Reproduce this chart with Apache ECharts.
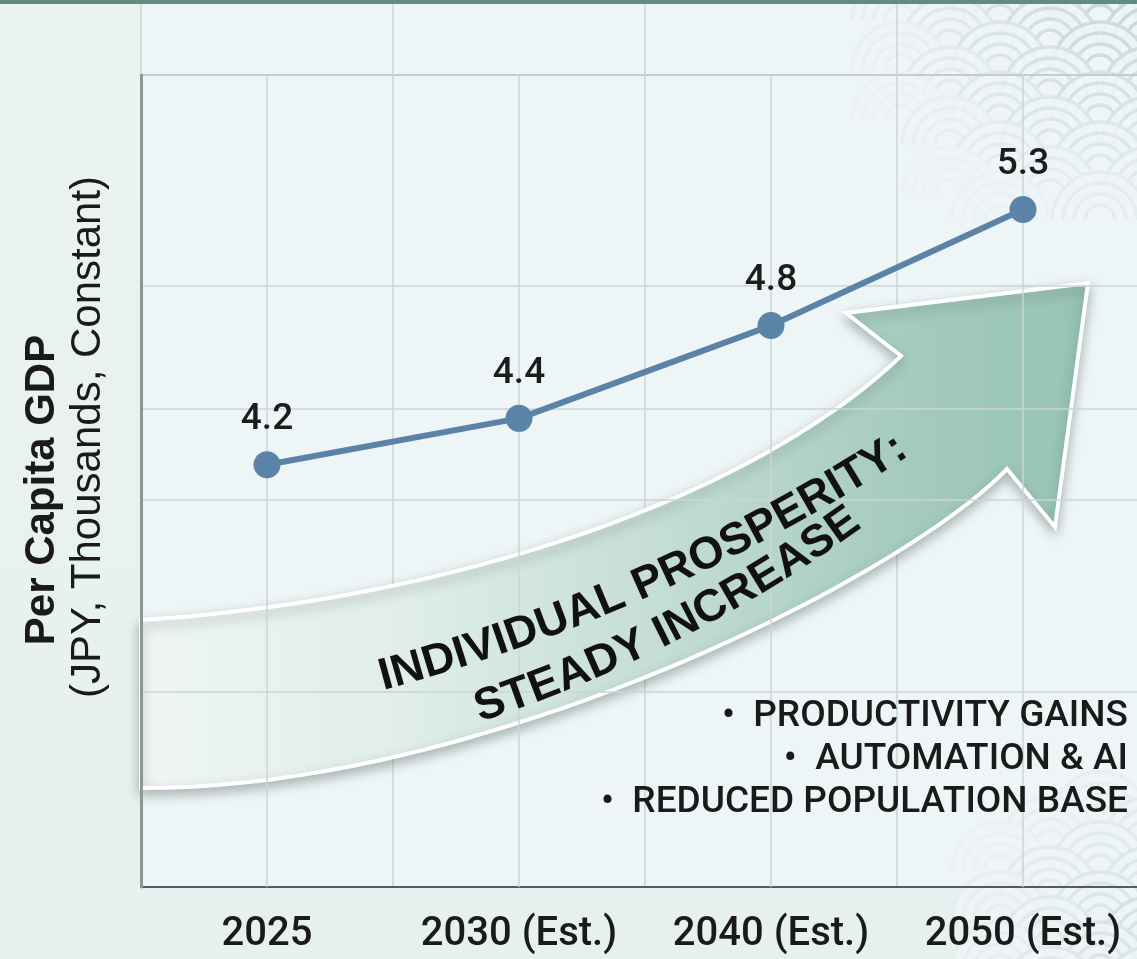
<!DOCTYPE html>
<html>
<head>
<meta charset="utf-8">
<script src="https://cdn.jsdelivr.net/npm/echarts@6/dist/echarts.min.js"></script>
<style>
html,body{margin:0;padding:0;background:#e9f2f1;}
#c{width:1137px;height:959px;}
</style>
</head>
<body>
<div id="c"></div>
<script>
// ---- data ----
const categories = ['2025', '2030 (Est.)', '2040 (Est.)', '2050 (Est.)'];
const gdpValues = [4.2, 4.4, 4.8, 5.3];
const gridLineValues = [4.97, 4.44, 4.05, 3.22];
const yAxisTitle = 'Per Capita GDP';
const yAxisSubtitle = '(JPY, Thousands, Constant)';
const arrowLine1 = 'INDIVIDUAL PROSPERITY:';
const arrowLine2 = 'STEADY INCREASE';
const driverBullets = ['PRODUCTIVITY GAINS', 'AUTOMATION & AI', 'REDUCED POPULATION BASE'];
const yMin = 2.38;
const yMax = 5.88;

// ---- layout ----
const W = 1137, H = 959;
const GRID = { left: 141, top: 75, width: 1008, bottom: 72 };
const BAND = GRID.width / categories.length;
const PLOT_BOTTOM = H - GRID.bottom;
const GRID_COLOR = '#cbd4d4';

const chart = echarts.init(document.getElementById('c'), null, { renderer: 'canvas', width: W, height: H });

const measureCtx = document.createElement('canvas').getContext('2d');
function curvedText(text, x0, y0, a0, a1, font) {
  measureCtx.font = font;
  const total = measureCtx.measureText(text).width;
  const out = [];
  let px = x0, py = y0, acc = 0;
  for (const ch of text) {
    const w = measureCtx.measureText(ch).width;
    const am = (a0 + (a1 - a0) * ((acc + w / 2) / total)) * Math.PI / 180;
    const cx = px + Math.cos(am) * w / 2;
    const cy = py - Math.sin(am) * w / 2;
    if (ch !== ' ') {
      out.push({
        type: 'text', x: cx, y: cy, rotation: am, z: 7, silent: true,
        style: { text: ch, font: font, fill: '#111', align: 'center', verticalAlign: 'middle' }
      });
    }
    px += Math.cos(am) * w;
    py -= Math.sin(am) * w;
    acc += w;
  }
  return out;
}

function bezier(p0, p1, p2, p3, n) {
  const pts = [];
  for (let i = 0; i <= n; i++) {
    const t = i / n, u = 1 - t;
    pts.push([
      u * u * u * p0[0] + 3 * u * u * t * p1[0] + 3 * u * t * t * p2[0] + t * t * t * p3[0],
      u * u * u * p0[1] + 3 * u * u * t * p1[1] + 3 * u * t * t * p2[1] + t * t * t * p3[1]
    ]);
  }
  return pts;
}

// seigaiha wave decoration
function waves(cornerX, cornerY, reach, R, x0, y0, cols, rows, maxAlpha) {
  const els = [];
  for (let j = 0; j < rows; j++) {
    for (let i = 0; i < cols; i++) {
      const cx = x0 + i * 2 * R + (j % 2) * R;
      const cy = y0 + j * R * 0.5;
      const d = Math.hypot(cx - cornerX, cy - cornerY);
      const a = Math.max(0, 1 - d / reach) * maxAlpha;
      if (a <= 0.03) continue;
      els.push({
        type: 'sector', z: -5, silent: true,
        shape: { cx, cy, r0: 0, r: R, startAngle: Math.PI, endAngle: 2 * Math.PI },
        style: { fill: 'rgba(238,245,246,0.85)' }
      });
      [1, 0.78, 0.56, 0.34].forEach(k => {
        els.push({
          type: 'arc', z: -5, silent: true,
          shape: { cx, cy, r: R * k - 2, startAngle: Math.PI, endAngle: 2 * Math.PI },
          style: { stroke: 'rgba(180,202,202,' + a.toFixed(3) + ')', lineWidth: 3.5, fill: null }
        });
      });
    }
  }
  return els;
}

const graphics = [];
// backgrounds
graphics.push({ type: 'rect', z: -10, silent: true, shape: { x: 0, y: 0, width: W, height: H },
  style: { fill: { type: 'linear', x: 0, y: 0, x2: 0, y2: 1, colorStops: [{ offset: 0, color: '#eaf3f2' }, { offset: 1, color: '#e6f0ee' }] } } });
graphics.push({ type: 'rect', z: -9, silent: true, shape: { x: GRID.left, y: 4, width: W - GRID.left, height: PLOT_BOTTOM - 4 },
  style: { fill: '#eef5f6' } });
// wave patterns
graphics.push(...waves(W, 0, 290, 50, 900, -30, 5, 11, 0.75));
graphics.push(...waves(W, H, 200, 50, 1000, 820, 4, 9, 0.45));
// top bar
graphics.push({ type: 'rect', z: 30, silent: true, shape: { x: 0, y: 0, width: W, height: 4 }, style: { fill: '#5f8d7e' } });
// vertical gridlines in top strip
for (let i = 0; i < categories.length; i++) {
  const x = GRID.left + BAND * i;
  graphics.push({ type: 'line', z: 0, silent: true, shape: { x1: x, y1: 4, x2: x, y2: GRID.top },
    style: { stroke: GRID_COLOR, lineWidth: 1.5 } });
}
// arrow outline (sampled curves)
const arrowPts = []
  .concat(bezier([141, 620], [450, 600], [750, 500], [901, 356], 40))
  .concat([[846, 313], [1088, 283], [1055, 527], [1007, 469]])
  .concat(bezier([1007, 469], [900, 580], [480, 790], [141, 788], 40));
graphics.push({
  type: 'polygon', z: 5, silent: true,
  shape: { points: arrowPts },
  style: {
    fill: { type: 'linear', x: 141, y: 0, x2: 1088, y2: 0, global: true,
      colorStops: [{ offset: 0, color: '#eff6f4' }, { offset: 0.28, color: '#e0ede9' },
        { offset: 0.55, color: '#c4ddd5' }, { offset: 0.8, color: '#a6cbc0' }, { offset: 1, color: '#97c3b6' }] },
    stroke: '#ffffff', lineWidth: 4, lineJoin: 'miter',
    shadowBlur: 12, shadowOffsetY: 5, shadowColor: 'rgba(50,70,70,0.35)'
  }
});
const arrowFont = 'bold 45px "Liberation Sans", Arial, sans-serif';
graphics.push(...curvedText(arrowLine1, 380, 678, 15, 33, arrowFont));
graphics.push(...curvedText(arrowLine2, 476, 710, 18, 36, arrowFont));
// driver bullets
driverBullets.forEach((t, i) => {
  graphics.push({ type: 'text', z: 7, silent: true, x: 1128, y: 717 + i * 43,
    style: { text: '\u2022  ' + t, font: '500 37px Roboto, sans-serif', fill: '#1a1a1a', align: 'right', verticalAlign: 'middle' } });
});
// y axis titles
graphics.push({ type: 'text', z: 7, silent: true, x: 42, y: 490, rotation: Math.PI / 2,
  style: { text: yAxisTitle, font: 'bold 42px "Liberation Sans", Arial, sans-serif', fill: '#1a1a1a', align: 'center', verticalAlign: 'middle' } });
graphics.push({ type: 'text', z: 7, silent: true, x: 88, y: 437, rotation: Math.PI / 2,
  style: { text: yAxisSubtitle, font: '42px "Liberation Sans", Arial, sans-serif', fill: '#1a1a1a', align: 'center', verticalAlign: 'middle' } });

const option = {
  animation: false,
  backgroundColor: 'transparent',
  grid: { left: GRID.left, top: GRID.top, width: GRID.width, bottom: GRID.bottom, show: true,
    outerBoundsMode: 'none', containLabel: false,
    backgroundColor: 'transparent', borderColor: '#c4cccc', borderWidth: 2 },
  xAxis: {
    type: 'category', data: categories, boundaryGap: true,
    axisLine: { show: true, lineStyle: { color: '#555b5b', width: 2 } },
    axisTick: { show: false },
    axisLabel: { color: '#1a1a1a', fontSize: 40, fontWeight: 500, fontFamily: 'Roboto, sans-serif', margin: 28, interval: 0 },
    splitLine: { show: true, lineStyle: { color: GRID_COLOR, width: 1.5 } }
  },
  yAxis: {
    type: 'value', min: yMin, max: yMax, z: 20,
    axisLine: { show: true, lineStyle: { color: '#8d9595', width: 3 } },
    axisTick: { show: false }, axisLabel: { show: false },
    splitLine: { show: false }
  },
  graphic: { elements: graphics },
  series: [
    {
      name: 'grid', type: 'line', data: gdpValues, z: 1, silent: true,
      symbol: 'none', lineStyle: { opacity: 0 },
      markLine: {
        silent: true, symbol: 'none', animation: false, label: { show: false },
        lineStyle: { color: GRID_COLOR, width: 1.5, type: 'solid' },
        data: [...gridLineValues.map(v => ({ yAxis: v })), ...categories.map(c => ({ xAxis: c }))]
      }
    },
    {
      name: 'Per Capita GDP', type: 'line', data: gdpValues, z: 10,
      symbol: 'circle', symbolSize: 27,
      lineStyle: { color: '#5a83a7', width: 6 },
      itemStyle: { color: '#5a83a7' },
      label: { show: true, position: 'top', distance: 13, color: '#1c1c1c', fontSize: 37, fontWeight: 500, fontFamily: 'Roboto, sans-serif' }
    }
  ]
};
chart.setOption(option);
</script>
</body>
</html>
